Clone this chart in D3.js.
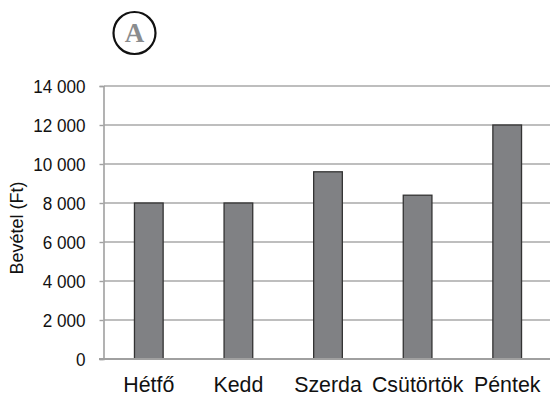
<!DOCTYPE html>
<html>
<head>
<meta charset="utf-8">
<script src="https://cdn.jsdelivr.net/npm/d3@7"></script>
<style>
  html, body { margin: 0; padding: 0; background: #fff; }
  svg { display: block; }
</style>
</head>
<body>
<svg id="chart" width="550" height="398"></svg>
<script>
// Daily revenue by weekday
const days = ["Hétfő", "Kedd", "Szerda", "Csütörtök", "Péntek"];
const revenue = [8000, 8000, 9600, 8400, 12000];
const yTicks = [0, 2000, 4000, 6000, 8000, 10000, 12000, 14000];
const yTitle = "Bevétel (Ft)";
const badge = "A";

const svg = d3.select("#chart");
const font = "'Liberation Sans Narrow', 'Arial Narrow', 'Liberation Sans', sans-serif";

const x = d3.scaleBand().domain(days).range([104, 552]).paddingInner(0.68).paddingOuter(0.34);
const y = d3.scaleLinear().domain([0, 14000]).range([359, 86]);

const fmt = v => d3.format(",")(v).replace(/,/g, " ");

// horizontal gridlines
svg.append("g")
  .selectAll("line")
  .data(yTicks.filter(t => t > 0))
  .join("line")
  .attr("x1", 104).attr("x2", 552)
  .attr("y1", d => y(d)).attr("y2", d => y(d))
  .attr("stroke", "#a8a8a8").attr("stroke-width", 1.4);

// y axis
const yAxis = svg.append("g")
  .attr("transform", "translate(103.5,0)")
  .call(d3.axisLeft(y).tickValues(yTicks).tickFormat(fmt).tickSize(4).tickPadding(16));
yAxis.select(".domain").attr("stroke", "#a0a0a0").attr("stroke-width", 1.6);
yAxis.selectAll(".tick line").attr("stroke", "#a0a0a0").attr("stroke-width", 1.4);
yAxis.selectAll(".tick text")
  .attr("font-family", font).attr("font-size", 19).attr("fill", "#111")
  .attr("transform", "scale(0.9,1)");

// bars
svg.append("g")
  .selectAll("rect")
  .data(days.map((d, i) => ({ day: d, value: revenue[i] })))
  .join("rect")
  .attr("x", d => x(d.day))
  .attr("y", d => y(d.value))
  .attr("width", x.bandwidth())
  .attr("height", d => y(0) - y(d.value))
  .attr("fill", "#808184")
  .attr("stroke", "#333")
  .attr("stroke-width", 1.3);

// baseline
svg.append("line")
  .attr("x1", 99).attr("x2", 552)
  .attr("y1", y(0)).attr("y2", y(0))
  .attr("stroke", "#a0a0a0").attr("stroke-width", 2);

// x axis labels
const xAxis = svg.append("g")
  .attr("transform", `translate(0,${y(0)})`)
  .call(d3.axisBottom(x).tickSize(0).tickPadding(17));
xAxis.select(".domain").remove();
xAxis.selectAll(".tick text")
  .attr("font-family", font).attr("font-size", 23).attr("fill", "#111")
  .attr("transform", "scale(0.93,1)");

// y axis title
svg.append("text")
  .attr("transform", "translate(23,228) rotate(-90)")
  .attr("text-anchor", "middle")
  .attr("font-family", font).attr("font-size", 18).attr("fill", "#111")
  .text(yTitle);

// circled panel letter
svg.append("circle")
  .attr("cx", 134.5).attr("cy", 33).attr("r", 21)
  .attr("fill", "none").attr("stroke", "#111").attr("stroke-width", 2.2);
svg.append("text")
  .attr("x", 134.5).attr("y", 42)
  .attr("text-anchor", "middle")
  .attr("font-family", "'Liberation Serif', 'DejaVu Serif', serif")
  .attr("font-weight", "bold").attr("font-size", 27).attr("fill", "#8a8c8e")
  .text(badge);
</script>
</body>
</html>
